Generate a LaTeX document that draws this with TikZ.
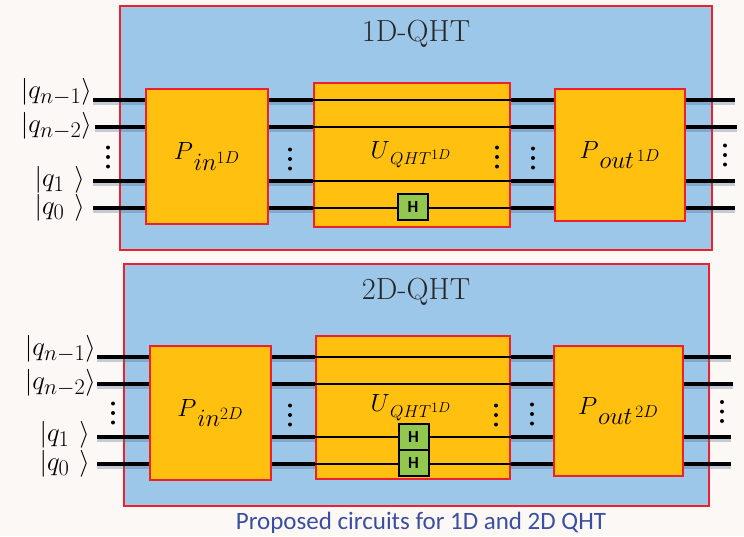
\documentclass[tikz,border=0pt]{standalone}
\usepackage{amsmath}
\usepackage{fontspec}
\setsansfont{Carlito}
\usepackage{tikz}
\usetikzlibrary{positioning}
\definecolor{pagegrey}{RGB}{252,248,245}
\definecolor{qhtblue}{RGB}{157,199,233}
\definecolor{qhtorange}{RGB}{255,192,16}
\definecolor{qhtred}{RGB}{238,32,48}
\definecolor{qhtgreen}{RGB}{146,200,80}
\definecolor{captionblue}{RGB}{58,79,160}
\definecolor{wireshadow}{RGB}{70,100,140}
\tikzset{
	outerbox/.style={rectangle,draw=qhtred,fill=qhtblue,line width=2pt,inner sep=0pt,minimum width=#1},
	block/.style={rectangle,draw=qhtred,fill=qhtorange,line width=2pt,inner sep=0pt,font=\fontsize{34}{34}\selectfont},
	hgate/.style={rectangle,draw=black,fill=qhtgreen,line width=2pt,inner sep=0pt,minimum width=30pt,minimum height=26pt,font=\sffamily\bfseries\fontsize{17}{17}\selectfont},
	wire/.style={draw=black,line width=4pt,preaction={draw=wireshadow,draw opacity=0.3,line width=4pt,transform canvas={yshift=-2.5pt}}},
	thinwire/.style={draw=black,line width=1.2pt},
	ket/.style={inner sep=0pt,scale=1.08,font=\fontsize{30}{30}\selectfont},
	ulabel/.style={inner sep=0pt,font=\fontsize{27}{27}\selectfont},
	title/.style={inner sep=0pt,font=\fontsize{30.5}{30.5}\selectfont,text=black!85},
	vdot/.style={circle,fill=black,inner sep=0pt,minimum size=4pt},
}
\begin{document}
\begin{tikzpicture}[x=1pt,y=-1pt]
	\useasboundingbox[fill=pagegrey] (0,0) rectangle (744,536);

	% top circuit
	\node[outerbox=592pt,minimum height=244pt] (outerA) at (416,128) {};
	\node[title] (titleA) at (416,34) {1D-QHT};
	\node[block,minimum width=122pt,minimum height=135pt] (pinA) at (207,156.5) {$P_{\,in^{1D}}$};
	\node[block,minimum width=196pt,minimum height=144pt] (uA) at (412,155) {};
	\node[block,minimum width=130pt,minimum height=132pt] (poutA) at (620,155) {$P_{\,out^{\,1D}}$};
	\node[ulabel] (ulabelA) at (411,155) {$U_{\,QHT^{1D}}$};

	\node[ket,anchor=east] (q3A) at (92,92) {$|q_{n-1}\rangle$};
	\node[ket,anchor=east] (q2A) at (92,126) {$|q_{n-2}\rangle$};
	\node[ket,anchor=east] (q1A) at (85,180) {$|q_{1}\ \rangle$};
	\node[ket,anchor=east] (q0A) at (85,208) {$|q_{0}\ \rangle$};

	\foreach \name/\ypos/\xa/\xb in {a/100/93/735,b/127/95/737,c/181/93/735,d/208/93/735}{
		\coordinate (startA\name) at (\xa,\ypos);
		\coordinate (endA\name) at (\xb,\ypos);
		\path[wire] (startA\name) -- (startA\name -| pinA.west);
		\path[wire] (pinA.east |- startA\name) -- (uA.west |- startA\name);
		\path[thinwire] (uA.west |- startA\name) -- (uA.east |- startA\name);
		\path[wire] (uA.east |- startA\name) -- (poutA.west |- startA\name);
		\path[wire] (poutA.east |- startA\name) -- (endA\name);
	}
	\node[hgate] (hA) at (413,207) {H};

	% bottom circuit
	\node[outerbox=585pt,minimum height=242pt] (outerB) at (416.5,385) {};
	\node[title] (titleB) at (416,292) {2D-QHT};
	\node[block,minimum width=121pt,minimum height=134pt] (pinB) at (210.5,413) {$P_{\,in^{2D}}$};
	\node[block,minimum width=194pt,minimum height=143pt] (uB) at (413,407.5) {};
	\node[block,minimum width=129pt,minimum height=130pt] (poutB) at (618.5,411) {$P_{\,out^{\,2D}}$};
	\node[ulabel] (ulabelB) at (411,408) {$U_{\,QHT^{1D}}$};

	\node[ket,anchor=east] (q3B) at (96,349) {$|q_{n-1}\rangle$};
	\node[ket,anchor=east] (q2B) at (96,383) {$|q_{n-2}\rangle$};
	\node[ket,anchor=east] (q1B) at (90,435) {$|q_{1}\ \rangle$};
	\node[ket,anchor=east] (q0B) at (90,464) {$|q_{0}\ \rangle$};

	\foreach \name/\ypos/\xa/\xb in {a/357/97/731,b/384/97/733,c/437/97/731,d/464/97/731}{
		\coordinate (startB\name) at (\xa,\ypos);
		\coordinate (endB\name) at (\xb,\ypos);
		\path[wire] (startB\name) -- (startB\name -| pinB.west);
		\path[wire] (pinB.east |- startB\name) -- (uB.west |- startB\name);
		\path[thinwire] (uB.west |- startB\name) -- (uB.east |- startB\name);
		\path[wire] (uB.east |- startB\name) -- (poutB.west |- startB\name);
		\path[wire] (poutB.east |- startB\name) -- (endB\name);
	}
	\node[hgate] (hB1) at (413.5,437) {H};
	\node[hgate] (hB0) at (413.5,463) {H};

	% dots between the wires
	\foreach \name/\xpos/\ypos in {A1/108/157,A2/290/159,A3/497/157,A4/533/158,A5/725/155,
		B1/113/413,B2/290/415,B3/496/415,B4/532/414,B5/722/411.5}{
		\node[vdot] (dots\name t) at (\xpos,\ypos-9.5) {};
		\node[vdot] (dots\name m) at (\xpos,\ypos) {};
		\node[vdot] (dots\name b) at (\xpos,\ypos+9.5) {};
	}

	\node[inner sep=0pt,text=captionblue,font=\sffamily\fontsize{25}{25}\selectfont] (caption) at (421,523) {Proposed circuits for 1D and 2D QHT};
\end{tikzpicture}
\end{document}
